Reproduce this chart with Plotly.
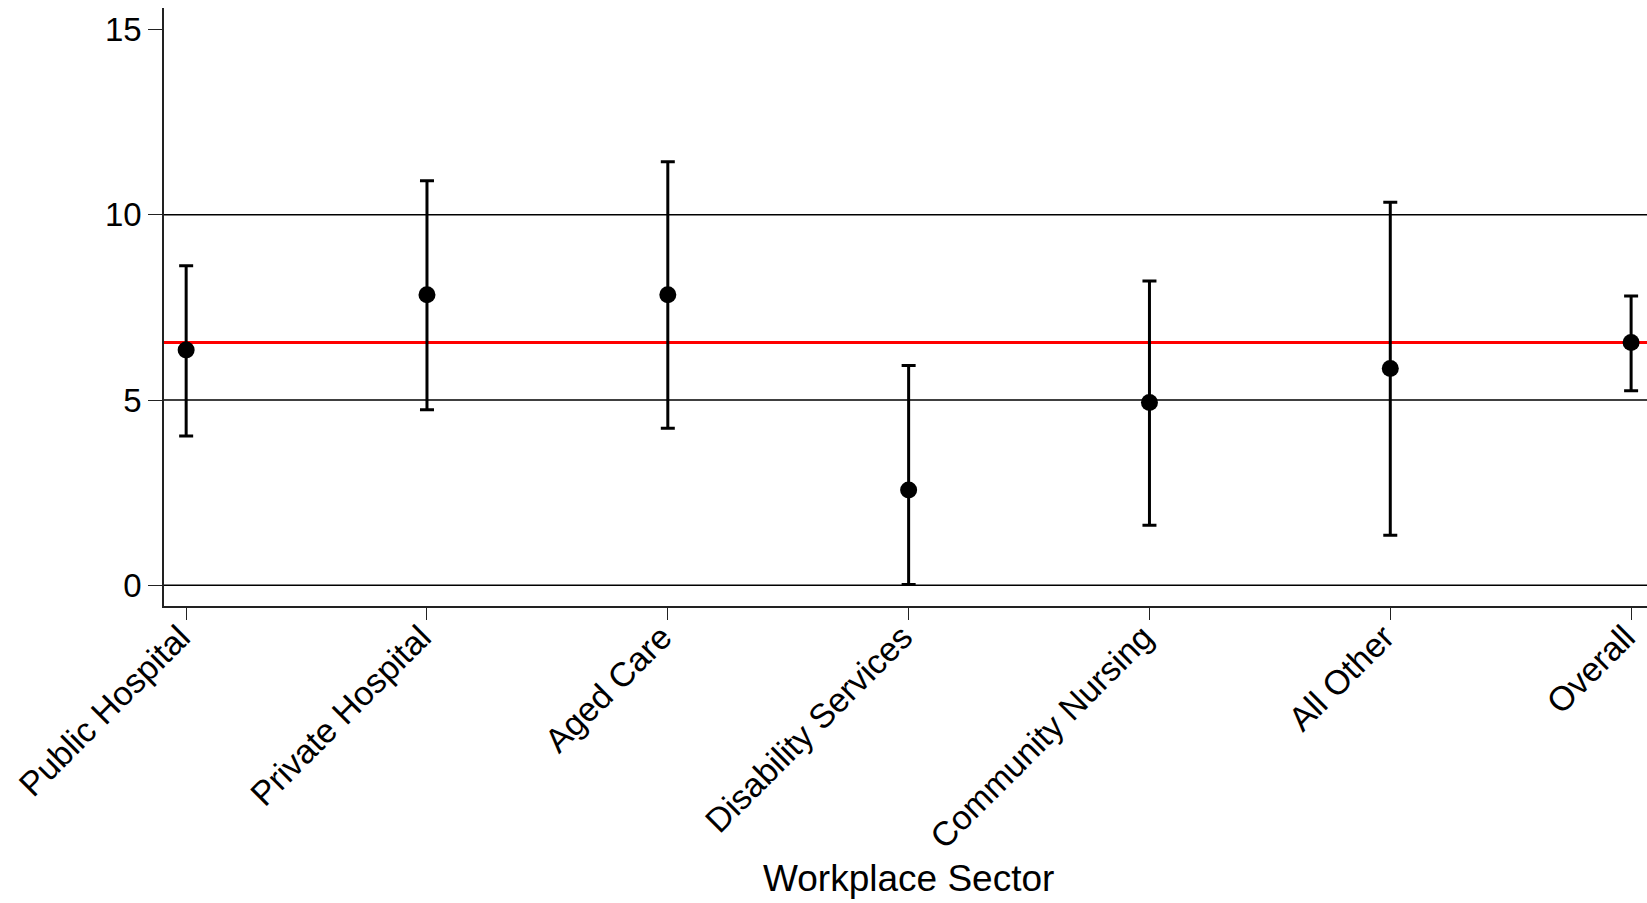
import plotly.graph_objects as go

# Workplace sectors and their point estimates with confidence limits
sectors = ["Public Hospital", "Private Hospital", "Aged Care", "Disability Services",
           "Community Nursing", "All Other", "Overall"]
estimates = [6.35, 7.84, 7.84, 2.57, 4.93, 5.85, 6.55]
upper_ci = [8.62, 10.92, 11.43, 5.93, 8.21, 10.34, 7.81]
lower_ci = [4.03, 4.74, 4.24, 0.02, 1.62, 1.35, 5.25]

# Reference line drawn at the overall estimate
overall_value = estimates[sectors.index("Overall")]

y_ticks = [0, 5, 10, 15]
grid_values = [0, 5, 10]

FONT = "Liberation Sans, Arial, sans-serif"

err_plus = [u - e for u, e in zip(upper_ci, estimates)]
err_minus = [e - l for e, l in zip(estimates, lower_ci)]

fig = go.Figure()

fig.add_trace(go.Scatter(
    x=sectors,
    y=estimates,
    mode="markers",
    marker=dict(color="black", size=17),
    error_y=dict(
        type="data",
        symmetric=False,
        array=err_plus,
        arrayminus=err_minus,
        color="black",
        thickness=3,
        width=7,
    ),
    cliponaxis=False,
    showlegend=False,
))

shapes = []
for g in grid_values:
    shapes.append(dict(
        type="line", xref="paper", x0=0, x1=1, yref="y", y0=g, y1=g,
        line=dict(color="black", width=1.3), layer="below",
    ))
shapes.append(dict(
    type="line", xref="paper", x0=0, x1=1, yref="y", y0=overall_value, y1=overall_value,
    line=dict(color="#ff0000", width=3), layer="below",
))

fig.update_layout(
    width=1647,
    height=903,
    margin=dict(l=164, r=0, t=8, b=297),
    paper_bgcolor="white",
    plot_bgcolor="white",
    font=dict(family=FONT, color="black"),
    shapes=shapes,
    annotations=[dict(
        text="Workplace Sector",
        xref="paper", yref="paper",
        x=0.502, y=-0.455,
        xanchor="center", yanchor="middle",
        showarrow=False,
        font=dict(family=FONT, size=37, color="black"),
    )],
)

fig.update_xaxes(
    type="category",
    range=[-0.092, 6.066],
    showline=True,
    linecolor="#222222",
    linewidth=1.5,
    ticks="outside",
    ticklen=12,
    tickwidth=1.2,
    tickcolor="#222222",
    tickangle=-45,
    ticklabelstandoff=-16,
    ticklabelshift=-6,
    tickfont=dict(family=FONT, size=34, color="black"),
    showgrid=False,
    zeroline=False,
)

fig.update_yaxes(
    range=[-0.56, 15.58],
    tickvals=y_ticks,
    ticktext=[str(v) for v in y_ticks],
    showline=True,
    linecolor="#222222",
    linewidth=1.5,
    ticks="outside",
    ticklen=14,
    tickwidth=1.2,
    tickcolor="#222222",
    tickfont=dict(family=FONT, size=33, color="black"),
    showgrid=False,
    zeroline=False,
)

fig.write_html("out.html")
